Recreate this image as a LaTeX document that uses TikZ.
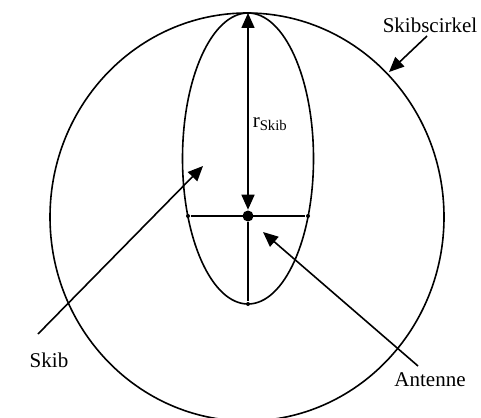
\documentclass[tikz,border=0pt]{standalone}
\usepackage{fontspec}
\setmainfont{Liberation Serif}
\usetikzlibrary{arrows.meta,shapes.geometric}
\begin{document}
\begin{tikzpicture}[x=1pt,y=-1pt,line width=1.6pt,
  lbl/.style={font=\fontsize{21}{25}\selectfont,inner sep=0pt},
  ptr/.style={-{Triangle[length=15pt,width=13pt]}},
  rim/.style={draw,ellipse,inner sep=0pt,outer sep=0pt},
  bigdot/.style={circle,fill,inner sep=0pt,minimum size=11pt},
  smalldot/.style={circle,fill,inner sep=0pt,minimum size=4pt}]
\useasboundingbox (0,0) rectangle (481,417);
\node[rim,minimum width=394pt,minimum height=408pt] (circ) at (247,217) {};
\node[rim,minimum width=131pt,minimum height=291pt] (ship) at (248,158.5) {};
\node[bigdot] (ant) at (248,216) {};
\node[smalldot] (l) at (188,216) {};
\node[smalldot] (r) at (308,216) {};
\node[smalldot] (b) at (248,304) {};
\coordinate (top) at (248,13);
\draw (l) -- (r);
\draw (ant) -- (b);
\draw[{Triangle[length=15pt,width=13pt]}-{Triangle[length=15pt,width=13pt]}] (ant.north) -- (top);
\node[lbl,anchor=west] (rs) at (252,124) {r\textsubscript{Skib}};
\node[lbl] (sc) at (430,25) {Skibscirkel};
\node[lbl] (sk) at (49,360) {Skib};
\node[lbl] (an) at (430,380) {Antenne};
\coordinate (sc0) at (427,36);
\coordinate (sc1) at (389,72);
\coordinate (sk0) at (38,334);
\coordinate (sk1) at (203,166);
\coordinate (an0) at (418,366);
\coordinate (an1) at (263,232);
\draw[ptr] (sc0) -- (sc1);
\draw[ptr] (sk0) -- (sk1);
\draw[ptr] (an0) -- (an1);
\end{tikzpicture}
\end{document}
